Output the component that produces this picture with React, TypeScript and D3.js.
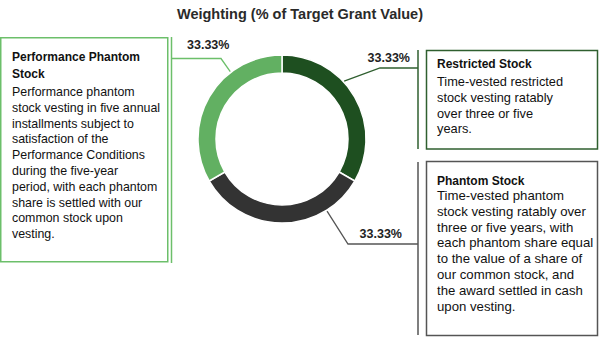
import React from "react";
import * as d3 from "d3";

const categories = ["Restricted Stock", "Phantom Stock", "Performance Phantom Stock"];
const values = [33.33, 33.33, 33.33];
const valueLabels = ["33.33%", "33.33%", "33.33%"];
const boxTitles = [["Restricted Stock"], ["Phantom Stock"], ["Performance Phantom", "Stock"]];
const boxBodies = [
  ["Time-vested restricted", "stock vesting ratably", "over three or five", "years."],
  [
    "Time-vested phantom",
    "stock vesting ratably over",
    "three or five years, with",
    "each phantom share equal",
    "to the value of a share of",
    "our common stock, and",
    "the award settled in cash",
    "upon vesting.",
  ],
  [
    "Performance phantom",
    "stock vesting in five annual",
    "installments subject to",
    "satisfaction of the",
    "Performance Conditions",
    "during the five-year",
    "period, with each phantom",
    "share is settled with our",
    "common stock upon",
    "vesting.",
  ],
];
const title = "Weighting (% of Target Grant Value)";

const W = 599;
const H = 337;
const cx = 282;
const cy = 139;
const outerR = 84;
const innerR = 66;
const fills = ["#1e4f20", "#333333", "#62b062"];
const strokes = ["#2f5f2f", "#555555", "#6cbf6a"];
const FONT = "'Liberation Sans', Arial, Helvetica, sans-serif";

// layout for annotations (per slice)
const layout = [
  {
    anchorDeg: 47, elbow: [380, 68], vx: 418, vy: [50, 149],
    box: { x: 426.5, y: 50.5, w: 171, h: 98.5 }, textX: 437, bodySize: 12.8,
    titleY: [68], bodyY0: 86, label: { x: 410, y: 62, anchor: "end" },
  },
  {
    anchorDeg: 148, elbow: [348, 244], vx: 418, vy: [162, 335],
    box: { x: 426.5, y: 161.5, w: 171, h: 174 }, textX: 437, bodySize: 13.2,
    titleY: [184.5], bodyY0: 200, label: { x: 402, y: 238, anchor: "end" },
  },
  {
    anchorDeg: 322.5, elbow: [221, 58.5], vx: 171.5, vy: [37, 263],
    box: { x: 0.75, y: 37.75, w: 167, h: 224 }, textX: 12, bodySize: 12.4,
    titleY: [61, 78], bodyY0: 96, label: { x: 187, y: 49, anchor: "start" },
  },
];

export default function App() {
  const pie = d3.pie<number>().sort(null).value((d) => d)(values);
  const arc = d3.arc<d3.PieArcDatum<number>>().innerRadius(innerR).outerRadius(outerR);

  return (
    <svg
      width={W}
      height={H}
      viewBox={`0 0 ${W} ${H}`}
      style={{ position: "absolute", left: 0, top: 0, background: "#fff" }}
      fontFamily={FONT}
    >
      <text x={300} y={19} textAnchor="middle" fontWeight="bold" fontSize={14.5} fill="#2a2a2a">
        {title}
      </text>
      <g transform={`translate(${cx},${cy})`}>
        {pie.map((p, i) => (
          <path key={categories[i]} d={arc(p) || ""} fill={fills[i]} stroke="#fff" strokeWidth={1.5} />
        ))}
      </g>
      {layout.map((L, i) => {
        const a = (L.anchorDeg * Math.PI) / 180;
        const ax = cx + Math.sin(a) * (outerR + 1);
        const ay = cy - Math.cos(a) * (outerR + 1);
        const pts = [
          [ax, ay],
          L.elbow,
          [L.vx, L.elbow[1]],
        ];
        const line = d3.line()(pts as [number, number][]) || "";
        return (
          <g key={categories[i]}>
            <path d={line} fill="none" stroke={strokes[i]} strokeWidth={1.3} />
            <line x1={L.vx} x2={L.vx} y1={L.vy[0]} y2={L.vy[1]} stroke={strokes[i]} strokeWidth={1.5} />
            <rect x={L.box.x} y={L.box.y} width={L.box.w} height={L.box.h} fill="#fff" stroke={strokes[i]} strokeWidth={1.5} />
            <text x={L.label.x} y={L.label.y} textAnchor={L.label.anchor as any} fontWeight="bold" fontSize={12.5} fill="#222">
              {valueLabels[i]}
            </text>
            {boxTitles[i].map((t, j) => (
              <text key={j} x={L.textX} y={L.titleY[j]} fontWeight="bold" fontSize={12} fill="#111">
                {t}
              </text>
            ))}
            {boxBodies[i].map((t, j) => (
              <text key={j} x={L.textX} y={L.bodyY0 + j * 15.8} fontSize={L.bodySize} fill="#111">
                {t}
              </text>
            ))}
          </g>
        );
      })}
    </svg>
  );
}
